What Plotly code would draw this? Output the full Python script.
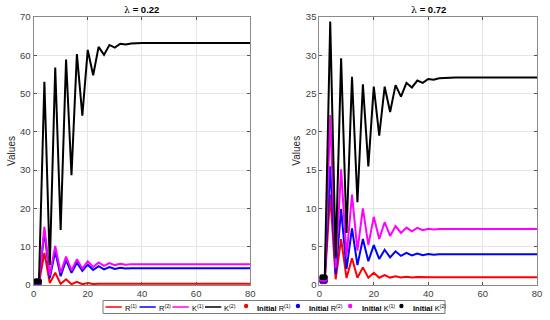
import plotly.graph_objects as go

# ---------------- data ----------------
# left panel (lambda = 0.22)
tL = [1, 2, 4, 6, 8, 10, 12, 14, 16, 18, 20, 22, 24, 26, 28, 30, 32, 34, 36, 40, 80]
R1_L = [0.5, 0.5, 8.4, 0.5, 3.2, 0.3, 1.5, 0.2, 0.8, 0.2, 0.5, 0.25, 0.35, 0.3, 0.3, 0.3, 0.3, 0.3, 0.3, 0.3, 0.3]
R2_L = [0.7, 0.7, 14.0, 1.8, 8.8, 2.3, 6.5, 3.2, 5.8, 3.7, 5.3, 3.9, 4.9, 4.1, 4.7, 4.2, 4.5, 4.3, 4.4, 4.35, 4.35]
K1_L = [0.9, 0.9, 15.2, 2.5, 10.2, 3.2, 7.4, 3.8, 6.7, 4.3, 6.2, 4.7, 5.9, 5.0, 5.7, 5.2, 5.55, 5.3, 5.45, 5.4, 5.4]
K2_L = [1.0, 1.0, 53.1, 5.2, 56.8, 14.4, 58.9, 28.7, 60.3, 44.2, 61.4, 54.8, 62.2, 60.1, 62.7, 62.0, 63.0, 62.8, 63.1, 63.2, 63.2]

# right panel (lambda = 0.72)
tR = [1, 2, 4, 6, 8, 10, 12, 14, 16, 18, 20, 22, 24, 26, 28, 30, 32, 34, 36, 38, 40, 42, 44, 50, 80]
R1_R = [0.5, 0.5, 11.8, 0.75, 6.0, 0.9, 3.5, 0.95, 2.3, 0.95, 1.6, 0.95, 1.3, 0.97, 1.15, 0.98, 1.08, 0.99, 1.04, 1.0, 1.02, 1.0, 1.0, 1.0, 1.0]
R2_R = [0.6, 0.6, 15.5, 1.4, 9.9, 2.1, 7.4, 2.6, 6.0, 3.1, 5.2, 3.4, 4.6, 3.6, 4.4, 3.8, 4.2, 3.85, 4.1, 3.9, 4.05, 3.95, 4.0, 4.0, 4.0]
K1_R = [0.8, 0.8, 22.2, 2.2, 15.1, 3.7, 11.8, 4.5, 10.0, 5.2, 8.9, 6.0, 8.2, 6.4, 7.7, 6.8, 7.5, 7.0, 7.45, 7.15, 7.35, 7.25, 7.3, 7.3, 7.3]
K2_R = [1.0, 1.0, 34.4, 3.5, 29.6, 6.8, 27.2, 10.8, 26.2, 15.5, 25.9, 19.5, 25.9, 22.6, 26.1, 24.6, 26.4, 25.8, 26.7, 26.4, 26.9, 26.8, 27.0, 27.1, 27.1]

t_init = [1, 2]
titles = ["0.22", "0.72"]
letters = ["R", "R", "K", "K"]
supers = ["(1)", "(2)", "(1)", "(2)"]
colors = ["#ff0000", "#0000ff", "#ff00ff", "#000000"]
x_ticks = [0, 20, 40, 60, 80]
yL_ticks = [0, 10, 20, 30, 40, 50, 60, 70]
yR_ticks = [0, 5, 10, 15, 20, 25, 30, 35]

# ---------------- layout helpers ----------------
W, H = 550, 320
ML, MR, MT, MB = 0, 0, 17, 35
PH = H - MT - MB
def px_x(x):
    return x / W
def px_y(y):
    return 1 - (y - MT) / PH

FONT = "Liberation Sans, Arial, Helvetica, sans-serif"
fig = go.Figure()

panels = [
    (tL, [R1_L, R2_L, K1_L, K2_L], "x", "y"),
    (tR, [R1_R, R2_R, K1_R, K2_R], "x2", "y2"),
]
for t, series, xa, ya in panels:
    for s, c in zip(series, colors):
        fig.add_trace(go.Scatter(x=t, y=s, mode="lines", line=dict(color=c, width=2),
                                 xaxis=xa, yaxis=ya, showlegend=False, hoverinfo="skip"))
    for s, c in zip(series, colors):
        fig.add_trace(go.Scatter(x=t_init, y=s[:2], mode="markers",
                                 marker=dict(color=c, size=6, line=dict(width=0)),
                                 xaxis=xa, yaxis=ya, showlegend=False, hoverinfo="skip"))

axis_common = dict(showline=True, linecolor="#8a8a8a", linewidth=1, mirror="ticks",
                   ticks="inside", ticklen=3, tickcolor="#555555",
                   showgrid=True, gridcolor="#e6e6e6", gridwidth=1, zeroline=False,
                   tickfont=dict(family=FONT, size=9.5, color="#404040"))

dL = [31 / W, 251 / W]
dR = [321 / W, 542 / W]
fig.update_layout(
    width=W, height=H, margin=dict(l=ML, r=MR, t=MT, b=MB),
    paper_bgcolor="white", plot_bgcolor="white",
    xaxis=dict(domain=dL, range=[0, 80], tickvals=x_ticks, anchor="y", **axis_common),
    yaxis=dict(domain=[0, 1], range=[0, 70], tickvals=yL_ticks, anchor="x", **axis_common),
    xaxis2=dict(domain=dR, range=[0, 80], tickvals=x_ticks, anchor="y2", **axis_common),
    yaxis2=dict(domain=[0, 1], range=[0, 35], tickvals=yR_ticks, anchor="x2", **axis_common),
    showlegend=False,
)

ann = []
shapes = []
for d, lam, vx in [(dL, titles[0], 8), (dR, titles[1], 297)]:
    ann.append(dict(xref="paper", yref="paper", x=(d[0] + d[1]) / 2, y=px_y(10),
                    text="<span style='font-family:DejaVu Serif;font-size:9.5px'>λ</span>"
                         "<span style='font-weight:bold;font-size:9.5px'> = " + lam + "</span>",
                    showarrow=False, xanchor="center", yanchor="middle",
                    font=dict(family=FONT, size=9.5, color="#000000")))
    ann.append(dict(xref="paper", yref="paper", x=px_x(vx), y=px_y(151), text="Values",
                    textangle=-90, showarrow=False, xanchor="center", yanchor="middle",
                    font=dict(family=FONT, size=10, color="#262626")))

# ---------------- legend (drawn manually) ----------------
def label(letter, sup):
    return letter + "<sup style='font-size:5.5px'>" + sup + "</sup>"

ly0, ly1 = 300.5, 313.5
lyc = (ly0 + ly1) / 2
shapes.append(dict(type="rect", xref="paper", yref="paper",
                   x0=px_x(101.5), x1=px_x(448.5), y0=px_y(ly1), y1=px_y(ly0),
                   line=dict(color="#7a7a7a", width=1), fillcolor="white", layer="above"))
line_x = [104, 138.5, 172, 205]
for lx, L, S, c in zip(line_x, letters, supers, colors):
    shapes.append(dict(type="line", xref="paper", yref="paper",
                       x0=px_x(lx), x1=px_x(lx + 16.5), y0=px_y(lyc), y1=px_y(lyc),
                       line=dict(color=c, width=1.5), layer="above"))
    ann.append(dict(xref="paper", yref="paper", x=px_x(lx + 17.5), y=px_y(lyc + 0.5), text=label(L, S),
                    showarrow=False, xanchor="left", yanchor="middle",
                    font=dict(family=FONT, size=7.5, color="#000000")))
dot_x = [246.7, 299.3, 352.3, 404.3]
r = 2.2
for dx, L, S, c in zip(dot_x, letters, supers, colors):
    shapes.append(dict(type="circle", xref="paper", yref="paper",
                       x0=px_x(dx - r), x1=px_x(dx + r), y0=px_y(lyc - 1 + r), y1=px_y(lyc - 1 - r),
                       line=dict(color=c, width=0), fillcolor=c, layer="above"))
    ann.append(dict(xref="paper", yref="paper", x=px_x(dx + 9.5), y=px_y(lyc + 0.5),
                    text="<span style='font-weight:bold;font-size:7.5px'>Initial</span> " + label(L, S),
                    showarrow=False, xanchor="left", yanchor="middle",
                    font=dict(family=FONT, size=7.5, color="#000000")))

fig.update_layout(annotations=ann, shapes=shapes)
fig.write_html("out.html", config={"displayModeBar": False},
               post_script="document.body.style.margin='0';document.body.style.padding='0';document.body.style.overflow='hidden';")
